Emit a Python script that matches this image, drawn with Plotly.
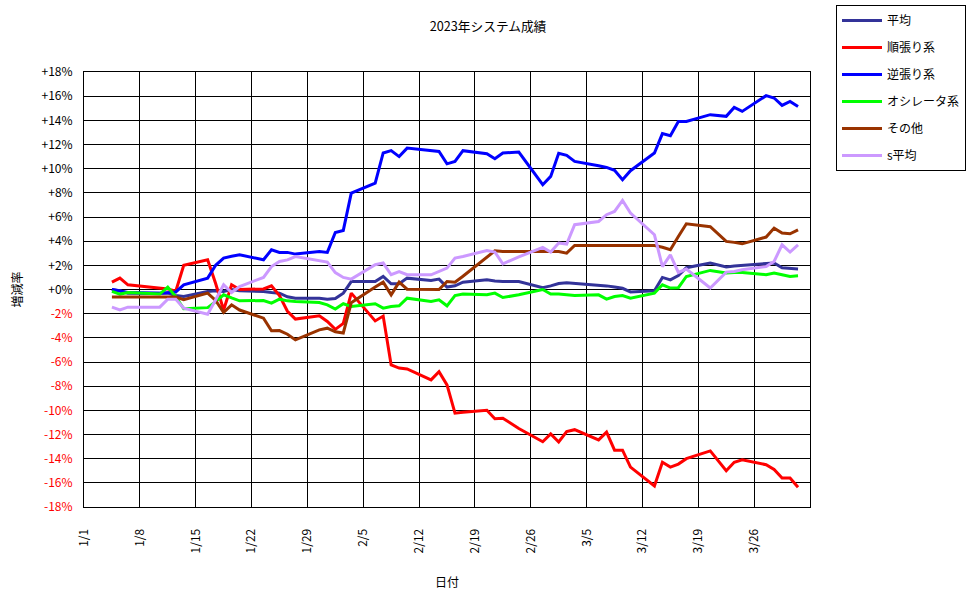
import pandas as pd
import plotly.graph_objects as go

# ---- data -------------------------------------------------------------
dates = [
    "2023-01-04", "2023-01-05", "2023-01-06", "2023-01-10", "2023-01-11", "2023-01-12", "2023-01-13",
    "2023-01-16", "2023-01-17", "2023-01-18", "2023-01-19", "2023-01-20", "2023-01-23", "2023-01-24",
    "2023-01-25", "2023-01-26", "2023-01-27", "2023-01-30", "2023-01-31",
    "2023-02-01", "2023-02-02", "2023-02-03", "2023-02-06", "2023-02-07", "2023-02-08", "2023-02-09",
    "2023-02-10", "2023-02-13", "2023-02-14", "2023-02-15", "2023-02-16", "2023-02-17", "2023-02-20",
    "2023-02-21", "2023-02-22", "2023-02-24", "2023-02-27", "2023-02-28",
    "2023-03-01", "2023-03-02", "2023-03-03", "2023-03-06", "2023-03-07", "2023-03-08", "2023-03-09",
    "2023-03-10", "2023-03-13", "2023-03-14", "2023-03-15", "2023-03-16", "2023-03-17", "2023-03-20",
    "2023-03-22", "2023-03-23", "2023-03-24", "2023-03-27", "2023-03-28", "2023-03-29", "2023-03-30",
    "2023-03-31",
]

avg = [
    0.0, -0.1, -0.3, -0.35, -0.3, -0.5, -0.58, -0.16, -0.1, -0.16, 0.0, -0.1, -0.16, -0.25, -0.3, -0.6, -0.72, -0.72, -0.8,
    -0.75, -0.3, 0.66, 0.66, 1.08, 0.47, 0.47, 0.94, 0.75, 0.86, 0.2, 0.31, 0.6, 0.8, 0.7, 0.66, 0.66, 0.15, 0.3,
    0.5, 0.55, 0.5, 0.39, 0.3, 0.2, 0.1, -0.2, -0.1, 1.0, 0.8, 1.15, 1.8, 2.19, 1.86, 1.95, 2.0, 2.1, 2.2, 1.8, 1.75, 1.69,
]
trend = [
    0.61, 0.94, 0.39, 0.1, 0.05, -0.15, 2.0, 2.46, 0.5, -1.7, 0.39, 0.0, 0.05, 0.3, -0.5, -1.8, -2.45, -2.18, -2.65,
    -3.3, -2.8, -0.3, -2.6, -2.2, -6.24, -6.5, -6.57, -7.48, -6.8, -7.9, -10.24, -10.16, -10.0, -10.7, -10.65, -11.5, -12.6, -11.95,
    -12.62, -11.76, -11.6, -12.45, -11.8, -13.3, -13.3, -14.7, -16.26, -14.3, -14.7, -14.45, -14.0, -13.36, -15.0, -14.3, -14.1,
    -14.5, -14.9, -15.6, -15.6, -16.37,
]
counter = [
    0.0, -0.1, -0.25, -0.3, -0.27, -0.2, 0.39, 0.94, 2.0, 2.6, 2.75, 2.87, 2.46, 3.29, 3.07, 3.07, 2.93, 3.15, 3.07,
    4.72, 4.89, 7.98, 8.81, 11.3, 11.49, 11.0, 11.7, 11.51, 11.43, 10.4, 10.6, 11.49, 11.24, 10.82, 11.3, 11.38, 8.67, 9.36,
    11.27, 11.1, 10.6, 10.24, 10.1, 9.86, 9.08, 9.83, 11.3, 12.9, 12.73, 13.9, 13.9, 14.47, 14.33, 15.07, 14.74,
    16.04, 15.85, 15.24, 15.57, 15.15,
]
osc = [
    -0.16, -0.38, -0.25, -0.38, 0.2, -0.6, -1.6, -1.5, -1.0, -0.44, -0.7, -0.94, -0.91, -1.13, -0.8, -0.94, -0.99, -1.08, -1.27,
    -1.62, -1.18, -1.4, -1.18, -1.54, -1.4, -1.35, -0.72, -0.99, -0.85, -1.35, -0.5, -0.38, -0.44, -0.3, -0.66, -0.44, 0.0, -0.38,
    -0.38, -0.44, -0.5, -0.44, -0.8, -0.58, -0.5, -0.72, -0.3, 0.39, 0.12, 0.15, 1.08, 1.58, 1.36, 1.41, 1.41, 1.22, 1.36,
    1.22, 1.08, 1.13,
]
other = [
    -0.63, -0.63, -0.63, -0.63, -0.63, -0.63, -0.85, -0.3, -0.9, -1.9, -1.27, -1.7, -2.37, -3.42, -3.4, -3.7, -4.17, -3.34, -3.2,
    -3.5, -3.6, -1.1, 0.2, 0.61, -0.44, 0.61, 0.03, 0.0, 0.0, 0.66, 0.6, 1.1, 2.7, 3.2, 3.15, 3.15, 3.15, 3.15,
    3.15, 3.01, 3.64, 3.64, 3.64, 3.64, 3.64, 3.64, 3.64, 3.5, 3.29, 4.39, 5.44, 5.2, 3.98, 3.9, 3.78, 4.34, 5.08,
    4.67, 4.61, 4.94,
]
savg = [
    -1.46, -1.68, -1.46, -1.46, -0.8, -0.8, -1.54, -2.04, -0.85, 0.39, -0.25, 0.25, 1.0, 1.9, 2.32, 2.45, 2.73, 2.38, 2.27,
    1.4, 1.0, 0.86, 2.05, 2.19, 1.22, 1.49, 1.22, 1.22, 1.49, 1.77, 2.6, 2.73, 3.23, 3.1, 2.13, 2.7, 3.48, 3.1,
    3.84, 3.76, 5.36, 5.63, 6.19, 6.46, 7.37, 6.33, 4.53, 1.9, 2.87, 1.41, 1.69, 0.12, 1.44, 1.49, 1.63, 1.9, 2.32,
    3.7, 3.1, 3.7,
]

series_names = ["平均", "順張り系", "逆張り系", "オシレータ系", "その他", "s平均"]
series_values = [avg, trend, counter, osc, other, savg]
series_colors = ["#333399", "#FF0000", "#0000FF", "#00FF00", "#993300", "#CC99FF"]

x_tick_dates = ["2023-01-01", "2023-01-08", "2023-01-15", "2023-01-22", "2023-01-29", "2023-02-05",
                "2023-02-12", "2023-02-19", "2023-02-26", "2023-03-05", "2023-03-12", "2023-03-19", "2023-03-26"]
x_tick_labels = ["1/1", "1/8", "1/15", "1/22", "1/29", "2/5", "2/12", "2/19", "2/26", "3/5", "3/12", "3/19", "3/26"]
y_tick_values = list(range(-18, 19, 2))

FONT = "Noto Sans CJK JP, Noto Sans, sans-serif"

# each trading day sits in the middle of its day on the date axis
x_vals = pd.to_datetime(dates) + pd.Timedelta(hours=12)

fig = go.Figure()
for name, vals, col in zip(series_names, series_values, series_colors):
    fig.add_trace(go.Scatter(
        x=x_vals, y=vals, mode="lines", name=name, legendgroup=name,
        line=dict(color=col, width=3),
    ))

y_text = []
for v in y_tick_values:
    if v < 0:
        y_text.append(f'<span style="color:#FF0000">-{abs(v)}%</span>')
    else:
        y_text.append(f"+{v}%")

fig.update_layout(
    width=976, height=599,
    margin=dict(l=84, r=166, t=72, b=92, autoexpand=False),
    paper_bgcolor="white", plot_bgcolor="white",
    font=dict(family=FONT, size=12, color="black"),
    title=dict(text="2023年システム成績", x=0.5, xanchor="center", y=1 - 27 / 599, yanchor="middle",
               font=dict(size=12.7, family=FONT, color="black")),
    showlegend=True,
    legend=dict(
        xref="container", yref="container",
        x=836 / 976, y=1 - 5 / 599, xanchor="left", yanchor="top",
        bordercolor="black", borderwidth=1, bgcolor="white",
        font=dict(size=12, family=FONT, color="black"), tracegroupgap=8,
        itemwidth=40,
    ),
    xaxis=dict(
        type="date", range=["2023-01-01", "2023-04-02"], automargin=False,
        tickmode="array", tickvals=x_tick_dates, ticktext=x_tick_labels,
        tickangle=-90, ticklabelstandoff=16,
        showgrid=True, gridcolor="black", gridwidth=1,
        showline=True, linecolor="black", linewidth=1, mirror=True,
        zeroline=False, ticks="",
        title=dict(text="日付", standoff=26, font=dict(size=12, color="black")),
        tickfont=dict(size=12, color="black"),
    ),
    yaxis=dict(
        range=[-18, 18], tickmode="array", tickvals=y_tick_values, ticktext=y_text, automargin=False,
        showgrid=True, gridcolor="black", gridwidth=1,
        showline=True, linecolor="black", linewidth=1, mirror=True,
        zeroline=False, ticks="", ticklabelstandoff=8,
        title=dict(text="増減率", standoff=16, font=dict(size=12, color="black")),
        tickfont=dict(size=12, color="black"),
    ),
)

fig.write_html("out.html")
